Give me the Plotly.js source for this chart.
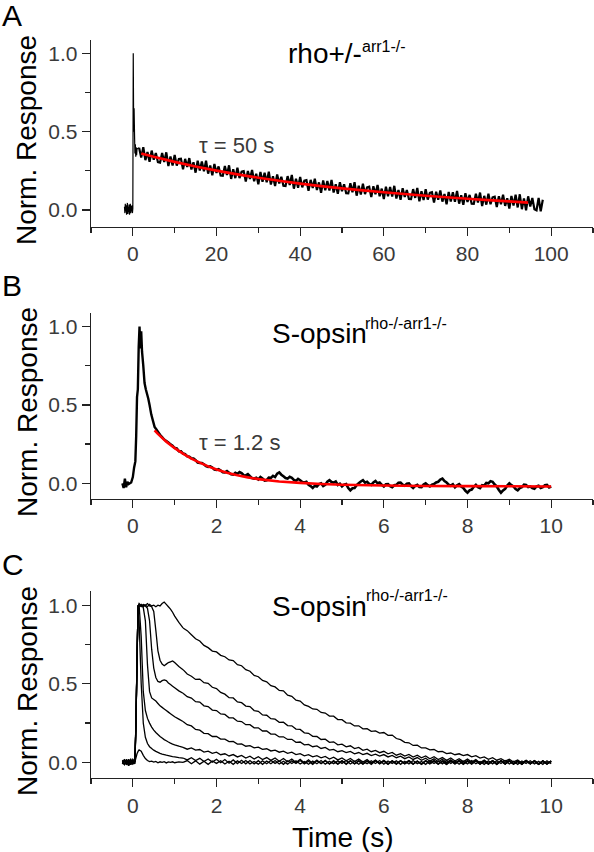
<!DOCTYPE html>
<html>
<head>
<meta charset="utf-8">
<script src="https://cdn.plot.ly/plotly-3.0.1.min.js"></script>
<style>html,body{margin:0;padding:0;background:#fff;}#chart{width:594px;height:852px;}</style>
</head>
<body>
<div id="chart"></div>
<script>
// ---------------- Panel A data (rho+/- arr1-/-) ----------------
var aEarlyT = [-2.0,-1.9,-1.8,-1.7,-1.6,-1.5,-1.4,-1.3,-1.2,-1.1,-1.0,-0.9,-0.8,-0.7,-0.6,-0.5,-0.4,-0.3,-0.2,-0.1,0.0,0.1,0.2,0.3,0.4,0.5,0.6,0.7,0.8,0.9,1.0,1.5];
var aEarlyV = [0.02,-0.02,0.04,-0.01,0.03,-0.03,0.01,0.045,-0.025,0.02,-0.015,0.035,-0.03,0.0,0.04,-0.02,0.025,-0.01,0.03,-0.02,0.01,1.0,0.5,0.65,0.49,0.36,0.42,0.34,0.40,0.35,0.39,0.397];
// tail of trace A: starts at 1.5 s, one sample every 0.5 s
var aTailStart = 1.5, aTailStep = 0.5;
var aTailV = [
0.397,0.334,0.401,0.318,0.370,0.307,0.379,0.321,0.363,0.305,
0.302,0.364,0.306,0.368,0.280,0.342,0.284,0.351,0.283,0.325,
0.327,0.259,0.326,0.274,0.331,0.258,0.305,0.238,0.315,0.252,
0.310,0.247,0.314,0.232,0.284,0.221,0.293,0.236,0.278,0.220,
0.218,0.280,0.223,0.285,0.198,0.260,0.203,0.270,0.203,0.245,
0.248,0.181,0.249,0.197,0.255,0.183,0.231,0.164,0.242,0.180,
0.238,0.176,0.244,0.162,0.215,0.153,0.226,0.169,0.212,0.155,
0.153,0.216,0.159,0.223,0.136,0.199,0.142,0.211,0.144,0.187,
0.190,0.123,0.192,0.140,0.199,0.127,0.176,0.109,0.188,0.126,
0.185,0.124,0.192,0.111,0.164,0.103,0.177,0.120,0.164,0.107,
0.106,0.170,0.113,0.177,0.091,0.155,0.099,0.167,0.101,0.144,
0.148,0.082,0.151,0.100,0.159,0.087,0.136,0.070,0.149,0.087,
0.146,0.085,0.154,0.073,0.127,0.065,0.139,0.083,0.127,0.070,
0.069,0.133,0.077,0.141,0.055,0.119,0.063,0.132,0.066,0.109,
0.113,0.047,0.116,0.065,0.124,0.053,0.102,0.036,0.115,0.054,
0.113,0.052,0.121,0.040,0.094,0.033,0.107,0.051,0.096,0.040,
0.039,0.103,0.047,0.111,0.025,0.090,0.034,0.103,0.037,0.081,
0.085,0.019,0.088,0.037,0.097,0.026,0.075,0.009,0.089,0.028,
0.097,0.016,0.100,0.005,0.074,-0.002,0.087,0.022,0.076,0.005,
-0.002,0.077,-0.009,0.065];
var aFitT = [2,5,10,15,20,25,30,35,40,45,50,55,60,65,70,75,80,85,90,94.5];
var aFitV = [0.360,0.339,0.307,0.278,0.251,0.227,0.206,0.186,0.168,0.152,0.138,0.125,0.113,0.102,0.091,0.081,0.072,0.063,0.055,0.047];

// ---------------- Panel B data (S-opsin rho-/- arr1-/-) ----------------
var bEarlyT = [-0.25,-0.22,-0.19,-0.16,-0.13,-0.1,-0.07,-0.04,0.0,0.03,0.06,0.08,0.1,0.12,0.14,0.16,0.18,0.2,0.22,0.25,0.28,0.31,0.34,0.37,0.4,0.44,0.48,0.52,0.56,0.6,0.65,0.7,0.75,0.8,0.85,0.9,0.95,1.0];
var bEarlyV = [0.0,-0.03,0.03,-0.025,0.01,-0.005,0.0,0.005,0.04,0.1,0.14,0.3,0.55,0.6,0.87,1.0,0.86,0.97,0.84,0.75,0.64,0.6,0.57,0.54,0.5,0.44,0.40,0.36,0.345,0.33,0.31,0.295,0.28,0.27,0.26,0.25,0.24,0.225];
var bTailStart = 1.0, bTailStep = 0.05;
var bTailV = [
0.225,0.222,0.205,0.204,0.19,0.186,0.172,0.17,0.16,0.158,0.148,0.133,0.13,0.13,0.122,0.11,0.105,0.108,0.1,0.088,
0.085,0.09,0.082,0.071,0.07,0.078,0.068,0.057,0.055,0.067,0.06,0.072,0.065,0.052,0.05,0.058,0.045,0.033,0.03,0.036,
0.025,0.04,0.03,0.018,0.02,0.036,0.035,0.048,0.04,0.062,0.07,0.055,0.045,0.034,0.03,0.042,0.035,0.022,0.015,0.028,
0.02,0.008,0.005,0.01,-0.01,-0.018,-0.03,-0.015,-0.02,-0.005,0.0,-0.018,-0.01,0.01,0.02,0.008,0.005,0.012,-0.01,-0.002,
-0.02,-0.008,-0.005,-0.03,-0.045,-0.032,-0.03,-0.012,0.0,0.012,0.02,0.004,0.01,-0.004,-0.01,0.006,0.015,0.0,0.005,-0.01,
-0.02,-0.006,-0.005,-0.018,-0.025,-0.012,-0.01,0.004,0.005,-0.008,-0.015,-0.002,0.0,-0.018,-0.03,-0.016,-0.01,-0.024,-0.025,-0.008,
0.0,-0.012,-0.02,-0.008,-0.005,0.006,0.01,0.024,0.03,0.014,0.005,-0.008,-0.015,-0.006,-0.025,-0.012,-0.005,-0.02,-0.03,-0.048,
-0.06,-0.045,-0.04,-0.022,-0.01,-0.024,-0.03,-0.012,-0.015,0.002,0.0,0.014,0.01,-0.008,-0.02,-0.042,-0.06,-0.045,-0.035,-0.014,
0.0,-0.012,-0.02,-0.036,-0.045,-0.03,-0.025,-0.008,-0.01,-0.024,-0.02,-0.03,-0.035,-0.02,-0.015,-0.03,-0.025,-0.012,-0.01,-0.026,
-0.02];
var bFitT = [0.52,0.6,0.7,0.8,0.9,1.0,1.2,1.4,1.6,1.8,2.0,2.25,2.5,2.75,3.0,3.5,4.0,4.5,5.0,6.0,7.0,8.0,9.0,10.0];
var bFitV = [0.338,0.315,0.290,0.266,0.245,0.225,0.19,0.158,0.132,0.108,0.088,0.068,0.051,0.038,0.027,0.012,0.003,-0.004,-0.009,-0.014,-0.017,-0.018,-0.019,-0.02];

// ---------------- Panel C data (family of 7 flash responses) ----------------
var cEarlyT = [-0.25,-0.2,-0.15,-0.1,-0.05,0.0,0.05,0.075,0.1,0.125,0.15,0.2,0.25,0.3,0.35,0.4,0.45,0.5,0.55,0.6,0.65,0.7,0.75,0.8,0.85,0.9,0.95,1.0,1.1,1.2];
var cTailStart = 1.2, cTailStep = 0.1;
var c1Early = [0.01,-0.015,0.02,-0.01,0.015,-0.005,0.02,0.26,0.66,0.99,1.01,0.995,1.005,1.0,0.99,1.005,0.995,1.0,0.99,1.0,0.995,1.01,1.02,1.005,0.99,0.975,0.955,0.93,0.89,0.855];
var c1Tail = [0.855,0.838,0.812,0.786,0.772,0.744,0.73,0.708,
0.703,0.681,0.672,0.652,0.648,0.622,0.615,0.59,0.58,0.553,
0.545,0.521,0.513,0.488,0.48,0.458,0.455,0.428,0.42,0.396,
0.39,0.366,0.356,0.34,0.338,0.318,0.314,0.295,0.294,0.273,
0.272,0.252,0.25,0.232,0.233,0.214,0.215,0.198,0.2,0.186,
0.19,0.172,0.174,0.152,0.145,0.128,0.125,0.108,0.11,0.092,
0.093,0.08,0.082,0.068,0.07,0.056,0.06,0.049,0.055,0.043,
0.05,0.036,0.043,0.028,0.035,0.02,0.03,0.014,0.024,0.008,
0.02,0.003,0.016,-0.004,0.013,-0.007,0.01,-0.009,0.008,-0.01,
0.006];
var c2Early = [-0.005,0.015,-0.01,0.02,-0.015,0.01,0.0,0.24,0.64,1.0,0.995,1.005,0.99,1.0,1.01,0.995,0.99,0.96,0.84,0.71,0.65,0.625,0.615,0.625,0.635,0.64,0.645,0.635,0.61,0.59];
var c2Tail = [0.59,0.562,0.548,0.528,0.53,0.507,0.503,0.478,
0.47,0.445,0.434,0.412,0.41,0.385,0.38,0.358,0.355,0.33,
0.325,0.302,0.3,0.278,0.275,0.255,0.256,0.234,0.233,0.212,
0.21,0.188,0.185,0.166,0.165,0.146,0.148,0.128,0.131,0.112,
0.116,0.099,0.106,0.088,0.095,0.077,0.084,0.068,0.076,0.062,
0.071,0.055,0.064,0.046,0.056,0.04,0.051,0.034,0.046,0.029,
0.041,0.023,0.036,0.018,0.031,0.013,0.028,0.009,0.024,0.005,
0.021,0.002,0.018,-0.003,0.015,-0.006,0.012,-0.008,0.011,-0.009,
0.009,-0.01,0.008,-0.011,0.009,-0.008,0.01,-0.01,0.007,-0.009,
0.006];
var c3Early = [0.01,-0.01,0.015,-0.02,0.005,0.01,-0.01,0.25,0.65,0.995,1.005,0.99,1.0,0.995,0.98,0.9,0.72,0.6,0.54,0.515,0.51,0.52,0.525,0.52,0.505,0.495,0.485,0.475,0.455,0.44];
var c3Tail = [0.44,0.418,0.409,0.386,0.384,0.36,0.355,0.333,
0.33,0.308,0.305,0.284,0.283,0.262,0.26,0.24,0.24,0.22,
0.22,0.2,0.2,0.18,0.18,0.162,0.163,0.146,0.147,0.128,
0.13,0.112,0.115,0.1,0.105,0.089,0.095,0.078,0.083,0.068,
0.075,0.062,0.07,0.055,0.063,0.05,0.058,0.044,0.053,0.04,
0.05,0.035,0.045,0.03,0.04,0.024,0.035,0.019,0.031,0.014,
0.027,0.008,0.023,0.004,0.02,0.0,0.017,-0.004,0.014,-0.006,
0.011,-0.008,0.01,-0.01,0.008,-0.009,0.011,-0.007,0.009,-0.011,
0.01,-0.008,0.007,-0.01,0.011,-0.006,0.008,-0.011,0.009,-0.007,
0.005];
var c4Early = [-0.01,0.02,-0.005,0.01,-0.015,0.02,0.005,0.26,0.64,1.0,0.99,1.0,0.985,0.9,0.62,0.45,0.41,0.4,0.39,0.375,0.36,0.35,0.34,0.33,0.32,0.31,0.3,0.29,0.275,0.26];
var c4Tail = [0.26,0.24,0.232,0.21,0.205,0.185,0.183,0.165,
0.165,0.148,0.148,0.132,0.133,0.117,0.118,0.103,0.107,0.093,
0.097,0.083,0.087,0.073,0.078,0.065,0.072,0.058,0.065,0.05,
0.056,0.042,0.049,0.035,0.043,0.029,0.038,0.022,0.033,0.016,
0.028,0.011,0.025,0.006,0.021,0.002,0.018,-0.003,0.015,-0.006,
0.013,-0.008,0.011,-0.01,0.01,-0.007,0.012,-0.009,0.008,-0.011,
0.01,-0.006,0.012,-0.009,0.007,-0.012,0.009,-0.008,0.011,-0.01,
0.008,-0.007,0.012,-0.011,0.006,-0.009,0.01,-0.012,0.009,-0.006,
0.011,-0.009,0.007,-0.01,0.012,-0.008,0.006,-0.011,0.01,-0.007,
0.008];
var c5Early = [0.015,-0.01,0.005,-0.02,0.01,-0.005,0.015,0.25,0.66,0.99,1.0,0.8,0.45,0.33,0.28,0.25,0.225,0.205,0.19,0.178,0.165,0.155,0.145,0.138,0.13,0.123,0.117,0.112,0.103,0.096];
var c5Tail = [0.096,0.084,0.092,0.078,0.082,0.066,0.072,0.058,
0.065,0.049,0.055,0.041,0.05,0.035,0.045,0.028,0.04,0.022,
0.036,0.018,0.031,0.013,0.028,0.008,0.025,0.004,0.022,0.0,
0.02,-0.004,0.017,-0.006,0.015,-0.008,0.013,-0.01,0.012,-0.009,
0.011,-0.012,0.009,-0.008,0.012,-0.01,0.008,-0.012,0.01,-0.007,
0.012,-0.009,0.007,-0.011,0.01,-0.006,0.012,-0.01,0.008,-0.012,
0.009,-0.007,0.011,-0.01,0.006,-0.012,0.01,-0.008,0.012,-0.009,
0.007,-0.011,0.01,-0.006,0.012,-0.01,0.008,-0.012,0.009,-0.007,
0.011,-0.01,0.006,-0.012,0.01,-0.008,0.012,-0.009,0.007,-0.011,
0.009];
var c6Early = [-0.01,0.015,-0.015,0.005,0.02,-0.01,0.01,0.24,0.65,0.97,0.9,0.5,0.25,0.16,0.12,0.1,0.088,0.078,0.07,0.064,0.058,0.053,0.05,0.046,0.043,0.04,0.037,0.035,0.031,0.028];
var c6Tail = [0.028,0.016,0.03,0.012,0.026,0.006,0.022,0.002,
0.02,-0.002,0.018,-0.005,0.016,-0.007,0.014,-0.009,0.012,-0.01,
0.011,-0.012,0.009,-0.008,0.012,-0.01,0.007,-0.011,0.01,-0.006,
0.012,-0.009,0.008,-0.012,0.01,-0.007,0.011,-0.01,0.006,-0.012,
0.009,-0.008,0.012,-0.01,0.007,-0.011,0.01,-0.006,0.012,-0.009,
0.008,-0.012,0.01,-0.007,0.011,-0.01,0.006,-0.012,0.009,-0.008,
0.012,-0.01,0.007,-0.011,0.01,-0.006,0.012,-0.009,0.008,-0.012,
0.01,-0.007,0.011,-0.01,0.006,-0.012,0.009,-0.008,0.012,-0.01,
0.007,-0.011,0.01,-0.006,0.012,-0.009,0.008,-0.012,0.01,-0.007,
0.011];
var c7Early = [0.005,-0.015,0.01,-0.005,0.015,-0.01,0.005,0.03,0.055,0.07,0.08,0.072,0.045,0.025,0.012,0.005,0.008,0.002,0.006,-0.002,0.004,0.0,0.005,-0.003,0.003,0.0,0.004,-0.002,0.003,0.0];
var c7Tail = [0.0,0.012,-0.008,0.01,-0.011,0.007,-0.012,0.009,
-0.006,0.011,-0.01,0.008,-0.012,0.01,-0.007,0.012,-0.009,0.006,
-0.011,0.01,-0.008,0.012,-0.006,0.009,-0.012,0.011,-0.007,0.01,
-0.01,0.006,-0.012,0.009,-0.008,0.012,-0.011,0.007,-0.009,0.01,
-0.006,0.012,-0.01,0.008,-0.012,0.006,-0.009,0.011,-0.007,0.012,
-0.011,0.009,-0.006,0.01,-0.012,0.008,-0.01,0.012,-0.008,0.006,
-0.012,0.01,-0.007,0.011,-0.009,0.012,-0.006,0.009,-0.011,0.007,
-0.01,0.012,-0.008,0.006,-0.012,0.01,-0.009,0.011,-0.007,0.012,
-0.01,0.008,-0.012,0.009,-0.006,0.011,-0.01,0.007,-0.012,0.01,
-0.008];
var cEarlySets = [c1Early,c2Early,c3Early,c4Early,c5Early,c6Early,c7Early];
var cTailSets = [c1Tail,c2Tail,c3Tail,c4Tail,c5Tail,c6Tail,c7Tail];

// tick labels
var yTickVals = [0, 0.5, 1.0];
var yTickText = ['0.0', '0.5', '1.0'];
var xTickValsA = [0, 20, 40, 60, 80, 100];
var xTickValsBC = [0, 2, 4, 6, 8, 10];

// ---------------- traces ----------------
var BLACK = '#000000', RED = '#ff0000';
var traces = [];
function line(w, c) { return {color: c, width: w, simplify: false}; }
traces.push({type:'scatter', mode:'lines', x:aEarlyT, y:aEarlyV, xaxis:'x', yaxis:'y', line:line(1.2, BLACK), hoverinfo:'skip'});
traces.push({type:'scatter', mode:'lines', x0:aTailStart, dx:aTailStep, y:aTailV, xaxis:'x', yaxis:'y', line:line(2.2, BLACK), hoverinfo:'skip'});
traces.push({type:'scatter', mode:'lines', x:aFitT, y:aFitV, xaxis:'x', yaxis:'y', line:line(2.6, RED), hoverinfo:'skip'});

traces.push({type:'scatter', mode:'lines', x:bEarlyT, y:bEarlyV, xaxis:'x2', yaxis:'y2', line:line(2.4, BLACK), hoverinfo:'skip'});
traces.push({type:'scatter', mode:'lines', x0:bTailStart, dx:bTailStep, y:bTailV, xaxis:'x2', yaxis:'y2', line:line(2.6, BLACK), hoverinfo:'skip'});
traces.push({type:'scatter', mode:'lines', x:bFitT, y:bFitV, xaxis:'x2', yaxis:'y2', line:line(2.6, RED), hoverinfo:'skip'});

for (var i = 0; i < cEarlySets.length; i++) {
  traces.push({type:'scatter', mode:'lines', x:cEarlyT, y:cEarlySets[i], xaxis:'x3', yaxis:'y3', line:line(1.3, BLACK), hoverinfo:'skip'});
  traces.push({type:'scatter', mode:'lines', x0:cTailStart, dx:cTailStep, y:cTailSets[i], xaxis:'x3', yaxis:'y3', line:line(1.3, BLACK), hoverinfo:'skip'});
}

// ---------------- layout ----------------
var FONT = 'Liberation Sans, Arial, Helvetica, sans-serif';
var AX = '#222222', TICKC = '#3a3a3a';
function xAxis(range, tickvals, minorStep, anchor) {
  return {anchor: anchor, domain:[0,1], range: range, tickmode:'array', tickvals: tickvals,
    showline:true, linecolor:AX, linewidth:1.3, ticks:'outside', ticklen:8, tickwidth:1.3, tickcolor:AX,
    showgrid:false, zeroline:false, fixedrange:true,
    tickfont:{family:FONT, size:21, color:TICKC},
    minor:{dtick:minorStep, tick0:0, ticks:'outside', ticklen:5, tickwidth:1.3, tickcolor:AX, showgrid:false}};
}
function yAxis(range, domain, anchor) {
  return {anchor: anchor, domain: domain, range: range, tickmode:'array', tickvals: yTickVals, ticktext: yTickText,
    showline:true, linecolor:AX, linewidth:1.3, ticks:'outside', ticklen:8, tickwidth:1.3, tickcolor:AX,
    showgrid:false, zeroline:false, fixedrange:true,
    tickfont:{family:FONT, size:21, color:TICKC},
    minor:{dtick:0.25, tick0:0, ticks:'outside', ticklen:5, tickwidth:1.3, tickcolor:AX, showgrid:false}};
}
// pixel -> paper helpers for text placement
var ML = 91, MR = 1, MT = 40, MB = 74, W = 594, H = 852;
function P(xp) { return (xp - ML) / (W - ML - MR); }
function Q(yp) { return (H - MB - yp) / (H - MT - MB); }
function ann(text, xp, yp, size, opts) {
  var a = {text:text, xref:'paper', yref:'paper', x:P(xp), y:Q(yp), showarrow:false,
    xanchor:'left', yanchor:'middle', borderpad:0,
    font:{family:FONT, size:size, color:'#000'}};
  for (var k in (opts||{})) a[k] = opts[k];
  return a;
}
var annotations = [
  ann('A', 1, 15, 30),
  ann('B', 1, 285, 30),
  ann('C', 1, 564, 30),
  ann('rho+/-', 287, 53, 28),
  ann('arr1-/-', 361, 46, 16),
  ann('S-opsin', 271, 333, 28),
  ann('rho-/-arr1-/-', 364, 323, 16),
  ann('S-opsin', 271, 606, 28),
  ann('rho-/-arr1-/-', 365, 595, 16),
  ann('\u03c4 = 50 s', 198, 145, 22, {font:{family:FONT, size:22, color:TICKC}}),
  ann('\u03c4 = 1.2 s', 198, 442, 22, {font:{family:FONT, size:22, color:TICKC}}),
  ann('Norm. Response', 27, 140, 28, {xanchor:'center', textangle:-90}),
  ann('Norm. Response', 27, 412, 28, {xanchor:'center', textangle:-90}),
  ann('Norm. Response', 27, 691, 28, {xanchor:'center', textangle:-90}),
  ann('Time (s)', 343, 837, 28, {xanchor:'center'})
];

var layout = {
  width: W, height: H,
  margin: {l:ML, r:MR, t:MT, b:MB, pad:0},
  paper_bgcolor:'#ffffff', plot_bgcolor:'#ffffff',
  showlegend:false,
  font:{family:FONT, color:'#000'},
  xaxis: xAxis([-10,110], xTickValsA, 10, 'y'),
  yaxis: yAxis([-0.107,1.085], [0.747,1.0], 'x'),
  xaxis2: xAxis([-1,11], xTickValsBC, 1, 'y2'),
  yaxis2: yAxis([-0.097,1.085], [0.3787,0.6297], 'x2'),
  xaxis3: xAxis([-1,11], xTickValsBC, 1, 'y3'),
  yaxis3: yAxis([-0.099,1.092], [0.0,0.2538], 'x3'),
  annotations: annotations
};
Plotly.newPlot('chart', traces, layout, {displayModeBar:false, staticPlot:true});
</script>
</body>
</html>
